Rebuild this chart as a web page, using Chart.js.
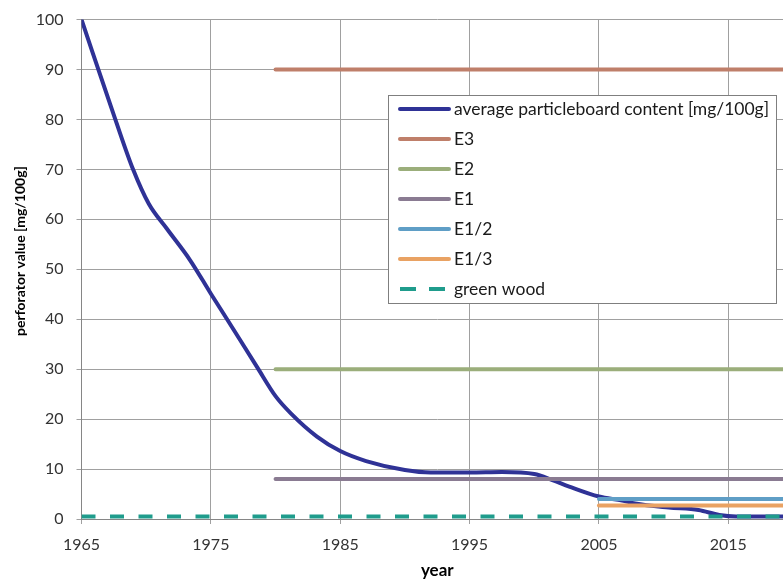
<!DOCTYPE html>
<html>
<head>
<meta charset="utf-8">
<script src="https://cdn.jsdelivr.net/npm/chart.js@4/dist/chart.umd.min.js"></script>
<style>
html,body{margin:0;padding:0;overflow:hidden;background:#fff;width:783px;height:581px}
canvas{display:block}
</style>
</head>
<body>
<canvas id="c" width="800" height="581"></canvas>
<script>
// ---- data ----
const years = [1965, 1967.6, 1969, 1970.2, 1971.6, 1973.4, 1975, 1976.3, 1978.6, 1980,
               1981.2, 1983.2, 1985, 1987, 1990, 1992, 1995, 1997.5, 2000, 2001.4,
               2002.7, 2005, 2006.8, 2007.8, 2010.4, 2012.7, 2014.3, 2015.6, 2020];
const averageContent = [100, 80.1, 69.9, 63.1, 58.1, 51.8, 45.1, 39.8, 30.3, 24.6,
                        21.1, 16.5, 13.6, 11.6, 9.8, 9.3, 9.3, 9.4, 9.0, 7.8,
                        6.5, 4.5, 3.7, 3.1, 2.3, 1.8, 0.8, 0.5, 0.5];

const limitLabels = ['E3', 'E2', 'E1', 'E1/2', 'E1/3', 'green wood'];
const limitValues = [90, 30, 8, 4, 2.7, 0.5];
const limitStart  = [1980, 1980, 1980, 2005, 2005, 1965];
const limitEnd    = [2020, 2020, 2020, 2020, 2020, 2020];

const xTickValues = [1965, 1975, 1985, 1995, 2005, 2015];
const yTickValues = [0, 10, 20, 30, 40, 50, 60, 70, 80, 90, 100];

const averageLabel = 'average particleboard content [mg/100g]';
const xTitle = 'year';
const yTitle = 'perforator value [mg/100g]';

// ---- styles ----
const averageColor = '#2f3296';
const limitColors = ['#bf7f6a', '#9bae7b', '#8a7b92', '#5f9ec6', '#e9a263', '#1f9c8c'];
const limitDashes = [[], [], [], [], [], [14, 14.5]];

Chart.defaults.font.family = 'Lato';

const datasets = [{
  label: averageLabel,
  data: years.map((y, i) => ({x: y, y: averageContent[i]})),
  borderColor: averageColor,
  borderWidth: 4,
  cubicInterpolationMode: 'monotone',
  pointRadius: 0,
  borderCapStyle: 'round',
  borderJoinStyle: 'round',
  order: 10,
  fill: false
}];
limitLabels.forEach((lab, i) => {
  datasets.push({
    label: lab,
    data: [{x: limitStart[i], y: limitValues[i]}, {x: limitEnd[i], y: limitValues[i]}],
    borderColor: limitColors[i],
    borderWidth: 4,
    borderDash: limitDashes[i],
    borderCapStyle: limitDashes[i].length ? 'butt' : 'round',
    pointRadius: 0,
    order: 9 - i,
    fill: false
  });
});

const boxLegend = {
  id: 'boxLegend',
  afterDraw(chart, args, o) {
    const ctx = chart.ctx;
    ctx.save();
    ctx.fillStyle = '#ffffff';
    ctx.fillRect(o.x, o.y, o.w, o.h);
    ctx.strokeStyle = '#7f7f7f';
    ctx.lineWidth = 1;
    ctx.strokeRect(o.x + 0.5, o.y + 0.5, o.w, o.h);
    ctx.font = o.font;
    ctx.textBaseline = 'middle';
    ctx.textAlign = 'left';
    chart.data.datasets.forEach((ds, i) => {
      const cy = o.y + o.firstRow + i * o.rowGap;
      ctx.strokeStyle = ds.borderColor;
      ctx.lineWidth = 4;
      const dash = ds.borderDash || [];
      ctx.setLineDash(dash.length ? [16, 13] : []);
      ctx.lineCap = dash.length ? 'butt' : 'round';
      ctx.beginPath();
      ctx.moveTo(o.x + o.sampleStart, cy);
      ctx.lineTo(o.x + o.sampleStart + o.sampleLen, cy);
      ctx.stroke();
      ctx.setLineDash([]);
      ctx.fillStyle = '#1a1a1a';
      ctx.fillText(ds.label, o.x + o.textStart, cy);
    });
    ctx.restore();
  }
};

const yTitlePlugin = {
  id: 'yTitle',
  afterDraw(chart, args, o) {
    const ctx = chart.ctx;
    ctx.save();
    ctx.translate(o.x, o.y);
    ctx.rotate(-Math.PI / 2);
    ctx.font = o.font;
    ctx.fillStyle = '#000';
    ctx.textAlign = 'center';
    ctx.textBaseline = 'middle';
    ctx.fillText(o.text, 0, 0);
    ctx.restore();
  }
};

new Chart(document.getElementById('c'), {
  type: 'line',
  data: {datasets},
  plugins: [boxLegend, yTitlePlugin],
  options: {
    responsive: false,
    animation: false,
    devicePixelRatio: 1,
    layout: {padding: {left: 0, top: 19.5, right: 7, bottom: 0}},
    plugins: {
      legend: {display: false},
      tooltip: {enabled: false},
      boxLegend: {x: 388, y: 95, w: 388, h: 208, firstRow: 14, rowGap: 30,
                  sampleStart: 12, sampleLen: 49, textStart: 66, font: '17.5px Lato'},
      yTitle: {x: 20, y: 251, text: yTitle, font: 'bold 14px Lato'}
    },
    scales: {
      x: {
        type: 'linear',
        min: 1965, max: 2020,
        afterBuildTicks: s => { s.ticks = xTickValues.map(v => ({value: v})); },
        afterFit: s => { s.height = 62; s.paddingLeft = 0; s.paddingRight = 0; },
        ticks: {color: '#333', font: {size: 16}, padding: 11, maxRotation: 0,
                callback: v => String(v)},
        grid: {color: '#a0a0a0', lineWidth: 1, tickLength: 5, drawTicks: true},
        border: {color: '#868686', width: 1},
        title: {display: true, text: xTitle, font: {size: 17, weight: 'bold'},
                color: '#000', padding: {top: 0, bottom: 0}}
      },
      y: {
        type: 'linear',
        min: 0, max: 100,
        afterBuildTicks: s => { s.ticks = yTickValues.map(v => ({value: v})); },
        afterFit: s => { s.width = 81.5; s.paddingTop = 0; s.paddingBottom = 0; },
        ticks: {color: '#333', font: {size: 16}, padding: 13},
        grid: {color: '#a0a0a0', lineWidth: 1, tickLength: 5, drawTicks: true},
        border: {color: '#868686', width: 1}
      }
    }
  }
});
</script>
</body>
</html>
